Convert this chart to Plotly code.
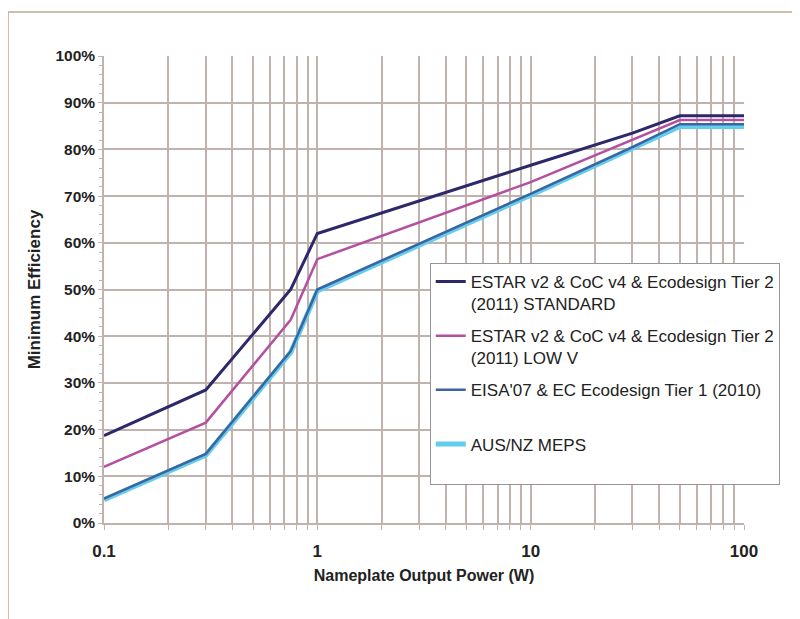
import plotly.graph_objects as go

power = [0.1, 0.3, 0.75, 1, 10, 30, 50, 100]
estar_std = [0.187, 0.285, 0.50, 0.620, 0.766, 0.835, 0.872, 0.872]
estar_lowv = [0.120, 0.215, 0.435, 0.565, 0.730, 0.820, 0.863, 0.863]
eisa = [0.052, 0.148, 0.368, 0.500, 0.705, 0.805, 0.854, 0.854]
ausnz = [0.050, 0.145, 0.365, 0.497, 0.702, 0.802, 0.849, 0.849]

names = [
    "ESTAR v2 & CoC v4 & Ecodesign Tier 2<br>(2011) STANDARD",
    "ESTAR v2 & CoC v4 & Ecodesign Tier 2<br>(2011) LOW V",
    "EISA'07 & EC Ecodesign Tier 1 (2010)<br> ",
    "AUS/NZ MEPS<br> ",
]
x_tickvals = [0.1, 1, 10, 100]
x_ticktext = ["0.1", "1", "10", "100"]
x_minor = [m * d for d in (0.1, 1, 10) for m in range(2, 10)]
y_tickvals = [i / 10 for i in range(11)]

FONT = "Arial, 'Liberation Sans', sans-serif"
GRID = "rgb(192,178,172)"

fig = go.Figure()
fig.add_trace(go.Scatter(x=power, y=ausnz, mode="lines", name=names[3], legendgroup="d",
                         line=dict(color="rgb(100,205,235)", width=5), legendrank=4))
fig.add_trace(go.Scatter(x=power, y=estar_std, mode="lines", name=names[0], legendgroup="a",
                         line=dict(color="rgb(45,40,105)", width=3), legendrank=1))
fig.add_trace(go.Scatter(x=power, y=estar_lowv, mode="lines", name=names[1], legendgroup="b",
                         line=dict(color="rgb(180,80,160)", width=2.5), legendrank=2))
fig.add_trace(go.Scatter(x=power, y=eisa, mode="lines", name=names[2], legendgroup="c",
                         line=dict(color="rgb(60,100,160)", width=2.5), legendrank=3))

fig.update_layout(
    width=800, height=619,
    margin=dict(l=96, r=64, t=48, b=104),
    paper_bgcolor="white", plot_bgcolor="white",
    font=dict(family=FONT, color="#222"),
    showlegend=True,
    legend=dict(
        x=0.509, y=0.557, xanchor="left", yanchor="top",
        bordercolor="rgb(150,150,150)", borderwidth=1, bgcolor="white",
        font=dict(family=FONT, size=17, color="#222"),
        valign="top", traceorder="grouped", tracegroupgap=7,
    ),
    xaxis=dict(
        type="log", range=[-1, 2],
        tickvals=x_tickvals, ticktext=x_ticktext,
        tickfont=dict(family=FONT, size=17, color="#222", weight="bold"),
        ticklabelstandoff=7,
        showgrid=True, gridcolor=GRID, gridwidth=1.5,
        showline=True, linecolor=GRID, linewidth=1.5,
        ticks="outside", ticklen=5, tickcolor=GRID,
        minor=dict(tickvals=x_minor, showgrid=True, gridcolor=GRID, gridwidth=1.5,
                   ticks="outside", ticklen=5, tickcolor=GRID),
        title=dict(text="Nameplate Output Power (W)", standoff=10,
                   font=dict(family=FONT, size=16, color="#222", weight="bold")),
        zeroline=False,
    ),
    yaxis=dict(
        range=[0, 1], tickvals=y_tickvals, tickformat=".0%",
        tickfont=dict(family=FONT, size=15.5, color="#222", weight="bold"),
        showgrid=True, gridcolor=GRID, gridwidth=1.5,
        showline=True, linecolor=GRID, linewidth=1.5,
        ticks="outside", ticklen=4, tickcolor=GRID,
        minor=dict(dtick=0.02, ticks="outside", ticklen=3, tickcolor=GRID, showgrid=False),
        title=dict(text="Minimum Efficiency", standoff=11,
                   font=dict(family=FONT, size=17, color="#222", weight="bold")),
        zeroline=False,
    ),
    shapes=[
        dict(type="line", xref="paper", yref="paper", x0=-0.15, x1=1.2, y0=1.094, y1=1.094,
             line=dict(color="rgb(190,170,140)", width=1.5)),
        dict(type="line", xref="paper", yref="paper", x0=-0.15, x1=-0.15, y0=1.094, y1=-0.25,
             line=dict(color="rgb(190,170,140)", width=1.5)),
    ],
)

fig.write_html("out.html")
